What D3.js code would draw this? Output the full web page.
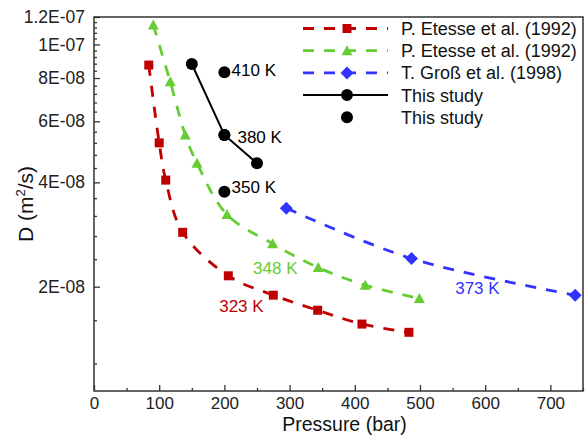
<!DOCTYPE html>
<html>
<head>
<meta charset="utf-8">
<script src="https://cdn.jsdelivr.net/npm/d3@7"></script>
<style>
  html, body { margin: 0; padding: 0; background: #fff; }
  svg { display: block; font-family: "Liberation Sans", Arial, sans-serif; }
</style>
</head>
<body>
<svg id="chart" width="586" height="435"></svg>
<script>
// ---- data (Pressure in bar, D in m^2/s) ----
const etesse323P = [84, 100, 110, 136, 206, 275, 343, 411, 483];
const etesse323D = [8.72e-8, 5.2e-8, 4.06e-8, 2.87e-8, 2.15e-8, 1.89e-8, 1.71e-8, 1.56e-8, 1.477e-8];
const etesse348P = [91, 117, 140, 158, 204, 274, 344, 416, 499];
const etesse348D = [1.137e-7, 7.8e-8, 5.48e-8, 4.54e-8, 3.23e-8, 2.66e-8, 2.27e-8, 2.02e-8, 1.85e-8];
const gross373P = [295, 487, 738];
const gross373D = [3.37e-8, 2.41e-8, 1.89e-8];
const studyLineP = [150, 200, 250];
const studyLineD = [8.78e-8, 5.48e-8, 4.54e-8];
const studyPtsP = [200, 200, 200];
const studyPtsD = [8.31e-8, 5.48e-8, 3.76e-8];

const legendLabels = ["P. Etesse et al. (1992)", "P. Etesse et al. (1992)", "T. Groß et al. (1998)", "This study", "This study"];
const annotations = [
  { text: "410 K", p: 211, d: 8.11e-8, color: "#000" },
  { text: "380 K", p: 220, d: 5.19e-8, color: "#000" },
  { text: "350 K", p: 211, d: 3.72e-8, color: "#000" },
  { text: "348 K", p: 244, d: 2.18e-8, color: "#66cc33" },
  { text: "323 K", p: 192, d: 1.69e-8, color: "#c00000" },
  { text: "373 K", p: 554, d: 1.91e-8, color: "#3333ff" }
];

const xTicks = [0, 100, 200, 300, 400, 500, 600, 700];
const xMinor = [50, 150, 250, 350, 450, 550, 650, 750];
const yTicks = [2e-8, 4e-8, 6e-8, 8e-8, 1e-7, 1.2e-7];
const yTickLabels = ["2E-08", "4E-08", "6E-08", "8E-08", "1E-07", "1.2E-07"];

// ---- layout ----
const plotL = 94, plotR = 583, plotT = 17, plotB = 391;
const RED = "#c00000", GREEN = "#66cc33", BLUE = "#3333ff";

const svg = d3.select("#chart");
const x = d3.scaleLinear().domain([0, 750]).range([plotL, plotR]);
const y = d3.scaleLog().domain([1e-8, 1.2e-7]).range([plotB, plotT]);

// minor y ticks every 4E-09
const yMinor = d3.range(3, 30).filter(k => k % 5 !== 0).map(k => k * 4e-9);

// axes
const axColor = "#333";
const xAxis = svg.append("g").attr("transform", `translate(0,${plotB})`)
  .call(d3.axisBottom(x).tickValues(xTicks).tickSize(-6).tickSizeOuter(0).tickPadding(6));
const xAxisMinor = svg.append("g").attr("transform", `translate(0,${plotB})`)
  .call(d3.axisBottom(x).tickValues(xMinor).tickSize(-3).tickSizeOuter(0).tickFormat(""));
const yAxis = svg.append("g").attr("transform", `translate(${plotL},0)`)
  .call(d3.axisLeft(y).tickValues(yTicks).tickSize(-6).tickSizeOuter(0).tickPadding(9)
    .tickFormat((d, i) => yTickLabels[i]));
const yAxisMinor = svg.append("g").attr("transform", `translate(${plotL},0)`)
  .call(d3.axisLeft(y).tickValues(yMinor).tickSize(-3).tickSizeOuter(0).tickFormat(""));

[xAxis, xAxisMinor, yAxis, yAxisMinor].forEach(g => {
  g.select(".domain").remove();
  g.selectAll("line").attr("stroke", axColor).attr("stroke-width", 1.3);
  g.selectAll("text").attr("font-size", 17).attr("fill", "#222")
    .attr("font-family", "'Liberation Sans', Arial, sans-serif");
});
yAxis.selectAll("text").attr("font-size", 17.5);

// frame
svg.append("rect").attr("x", plotL).attr("y", plotT)
  .attr("width", plotR - plotL).attr("height", plotB - plotT)
  .attr("fill", "none").attr("stroke", axColor).attr("stroke-width", 1.5);

// axis titles
svg.append("text").attr("x", (plotL + plotR) / 2 + 6).attr("y", 430.5)
  .attr("text-anchor", "middle").attr("font-size", 19.5).attr("fill", "#111")
  .text("Pressure (bar)");
const yt = svg.append("text").attr("transform", `translate(33,${(plotT + plotB) / 2}) rotate(-90)`)
  .attr("text-anchor", "middle").attr("font-size", 21).attr("fill", "#111");
yt.append("tspan").text("D (m");
yt.append("tspan").attr("font-size", 13).attr("dy", -8).text("2");
yt.append("tspan").attr("dy", 8).text("/s)");

// series
const dashed = d3.line().x(d => x(d[0])).y(d => y(d[1])).curve(d3.curveCatmullRom.alpha(0.5));
const straight = d3.line().x(d => x(d[0])).y(d => y(d[1]));
const zip = (a, b) => a.map((v, i) => [v, b[i]]);

const plot = svg.append("g");
const series = [
  { pts: zip(etesse323P, etesse323D), color: RED, marker: "square" },
  { pts: zip(etesse348P, etesse348D), color: GREEN, marker: "triangle" },
  { pts: zip(gross373P, gross373D), color: BLUE, marker: "diamond" }
];

function markerPath(type) {
  if (type === "square") return "M-4.5,-4.5H4.5V4.5H-4.5Z";
  if (type === "triangle") return "M0,-5.5L5.5,4.5H-5.5Z";
  if (type === "diamond") return "M0,-6.5L6.5,0L0,6.5L-6.5,0Z";
  return d3.symbol(d3.symbolCircle, 113)();
}

series.forEach(s => {
  plot.append("path").attr("d", dashed(s.pts)).attr("fill", "none")
    .attr("stroke", s.color).attr("stroke-width", 2.8).attr("stroke-dasharray", "11,10");
});
plot.append("path").attr("d", straight(zip(studyLineP, studyLineD))).attr("fill", "none")
  .attr("stroke", "#000").attr("stroke-width", 2);

series.forEach(s => {
  plot.selectAll(null).data(s.pts).enter().append("path")
    .attr("transform", d => `translate(${x(d[0])},${y(d[1])})`)
    .attr("d", markerPath(s.marker)).attr("fill", s.color);
});
plot.selectAll(null).data(zip(studyLineP, studyLineD)).enter().append("circle")
  .attr("cx", d => x(d[0])).attr("cy", d => y(d[1])).attr("r", 6).attr("fill", "#000");
plot.selectAll(null).data(zip(studyPtsP, studyPtsD)).enter().append("circle")
  .attr("cx", d => x(d[0])).attr("cy", d => y(d[1])).attr("r", 6).attr("fill", "#000");

// annotations
plot.selectAll(null).data(annotations).enter().append("text")
  .attr("x", d => x(d.p)).attr("y", d => y(d.d))
  .attr("font-size", 17).attr("fill", d => d.color).text(d => d.text);

// legend
const legend = svg.append("g");
const legendItems = [
  { color: RED, marker: "square", dash: true, line: true },
  { color: GREEN, marker: "triangle", dash: true, line: true },
  { color: BLUE, marker: "diamond", dash: true, line: true },
  { color: "#000", marker: "circle", dash: false, line: true },
  { color: "#000", marker: "circle", dash: false, line: false }
];
legendItems.forEach((it, i) => {
  const cy = 28.5 + i * 22.2;
  const g = legend.append("g");
  if (it.line) {
    g.append("line").attr("x1", 303).attr("x2", 388).attr("y1", cy).attr("y2", cy)
      .attr("stroke", it.color).attr("stroke-width", it.dash ? 2.8 : 2)
      .attr("stroke-dasharray", it.dash ? "11,10" : null);
  }
  g.append("path").attr("transform", `translate(347,${cy})`)
    .attr("d", markerPath(it.marker)).attr("fill", it.color);
  g.append("text").attr("x", 401).attr("y", cy + 6.5).attr("font-size", 18)
    .attr("fill", "#111").text(legendLabels[i]);
});
</script>
</body>
</html>
